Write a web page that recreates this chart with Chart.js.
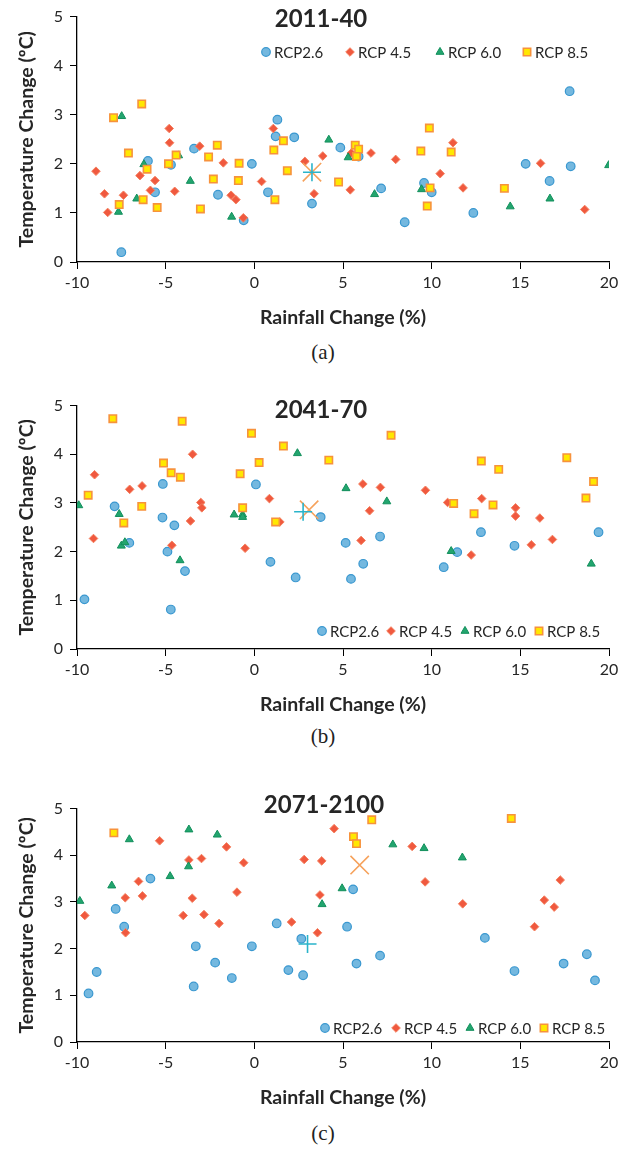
<!DOCTYPE html>
<html>
<head>
<meta charset="utf-8">
<script src="https://cdn.jsdelivr.net/npm/chart.js@4.4.1/dist/chart.umd.min.js"></script>
<style>
  body { margin: 0; background: #fff; width: 626px; height: 1150px; position: relative; overflow: hidden; }
  canvas { position: absolute; left: 0; }
  .cap { position: absolute; left: 0; width: 646px; text-align: center; font: 21px "Liberation Serif", serif; color: #222; }
</style>
</head>
<body>
<canvas id="chartA" width="626" height="335" style="top:0px"></canvas>
<div class="cap" style="top:340px">(a)</div>
<canvas id="chartB" width="626" height="333" style="top:389px"></canvas>
<div class="cap" style="top:724px">(b)</div>
<canvas id="chartC" width="626" height="323" style="top:792px"></canvas>
<div class="cap" style="top:1121px">(c)</div>
<script>
// Series names and axis ticks
var seriesNames = ['RCP2.6', 'RCP 4.5', 'RCP 6.0', 'RCP 8.5'];
var xTicks = [-10, -5, 0, 5, 10, 15, 20];
var yTicks = [0, 1, 2, 3, 4, 5];

// 2011-40  [rainfall change %, temperature change C]
var rcp26A = [[-7.5, 0.2], [-6.0, 2.06], [-5.6, 1.42], [-4.7, 1.98], [-3.4, 2.31], [-2.05, 1.37], [-0.6, 0.85],
  [-0.14, 2.0], [0.77, 1.42], [1.2, 2.56], [1.3, 2.9], [2.25, 2.54], [3.25, 1.19], [4.85, 2.33], [5.88, 2.15],
  [7.15, 1.5], [8.48, 0.81], [9.57, 1.61], [10.0, 1.42], [12.35, 1.0], [15.3, 2.0], [16.65, 1.65], [17.84, 1.95],
  [17.78, 3.48]];
var rcp45A = [[-8.93, 1.85], [-8.45, 1.39], [-8.27, 1.01], [-7.38, 1.36], [-6.45, 1.76], [-5.86, 1.46], [-5.6, 1.66],
  [-4.8, 2.72], [-4.78, 2.43], [-4.49, 1.44], [-3.08, 2.36], [-1.75, 2.02], [-1.31, 1.36], [-1.04, 1.27],
  [-0.62, 0.9], [0.41, 1.64], [1.07, 2.72], [2.85, 2.05], [3.37, 1.39], [3.86, 2.16], [5.41, 1.47], [5.47, 2.22],
  [6.58, 2.22], [7.97, 2.09], [10.48, 1.8], [11.2, 2.43], [11.77, 1.51], [16.14, 2.01], [18.63, 1.07]];
var rcp60A = [[-7.48, 2.97], [-7.66, 1.02], [-6.63, 1.29], [-6.23, 1.99], [-4.27, 2.17], [-3.61, 1.65], [-1.28, 0.92],
  [4.2, 2.49], [5.29, 2.13], [6.78, 1.38], [9.43, 1.48], [14.43, 1.13], [16.67, 1.29], [19.98, 1.97]];
var rcp85A = [[-7.94, 2.94], [-6.35, 3.22], [-7.1, 2.22], [-7.62, 1.17], [-6.05, 1.89], [-6.27, 1.27], [-5.48, 1.11],
  [-4.84, 2.0], [-4.41, 2.18], [-3.04, 1.08], [-2.58, 2.14], [-2.31, 1.69], [-2.09, 2.38], [-0.9, 1.66],
  [-0.86, 2.01], [1.1, 2.28], [1.16, 1.27], [1.64, 2.47], [1.86, 1.86], [4.75, 1.63], [5.69, 2.38], [5.88, 2.3],
  [5.76, 2.15], [9.39, 2.26], [9.87, 2.73], [9.91, 1.51], [9.75, 1.14], [11.1, 2.24], [14.1, 1.5]];
var meanXA = [[3.25, 1.83]];
var meanPlusA = [[3.25, 1.83]];

// 2041-70
var rcp26B = [[-9.58, 1.02], [-7.88, 2.93], [-7.05, 2.18], [-5.16, 3.39], [-5.18, 2.7], [-4.51, 2.54], [-4.9, 2.0],
  [-4.71, 0.81], [-3.91, 1.6], [0.09, 3.38], [0.91, 1.79], [2.33, 1.47], [3.74, 2.71], [5.15, 2.18], [5.45, 1.44],
  [6.14, 1.75], [7.09, 2.31], [10.68, 1.68], [11.44, 1.99], [12.78, 2.4], [14.67, 2.12], [19.41, 2.4]];
var rcp45B = [[-9.01, 3.58], [-9.07, 2.27], [-7.03, 3.28], [-6.33, 3.35], [-4.65, 2.13], [-3.6, 2.63], [-3.48, 4.0],
  [-3.02, 3.01], [-2.96, 2.9], [-0.52, 2.07], [0.85, 3.09], [1.44, 2.61], [6.12, 3.39], [7.11, 3.32], [6.5, 2.84],
  [6.02, 2.23], [9.65, 3.26], [10.9, 3.01], [12.23, 1.93], [12.82, 3.09], [14.73, 2.9], [14.73, 2.73],
  [15.62, 2.14], [16.1, 2.69], [16.81, 2.25]];
var rcp60B = [[-9.9, 2.95], [-7.62, 2.77], [-7.5, 2.12], [-7.3, 2.19], [-4.19, 1.82], [-1.14, 2.76], [-0.66, 2.76],
  [-0.66, 2.71], [2.43, 4.02], [5.17, 3.3], [7.47, 3.03], [11.1, 2.01], [19.0, 1.75]];
var rcp85B = [[-9.37, 3.16], [-7.98, 4.73], [-7.36, 2.59], [-6.35, 2.93], [-5.12, 3.82], [-4.69, 3.62], [-4.17, 3.53],
  [-4.07, 4.68], [-0.8, 3.6], [-0.66, 2.9], [-0.16, 4.43], [0.27, 3.83], [1.2, 2.61], [1.64, 4.17], [4.2, 3.88],
  [7.71, 4.39], [11.24, 2.99], [12.39, 2.78], [12.8, 3.86], [13.46, 2.96], [13.78, 3.69], [17.62, 3.93],
  [18.7, 3.1], [19.13, 3.44]];
var meanXB = [[3.09, 2.86]];
var meanPlusB = [[2.75, 2.82]];

// 2071-2100
var rcp26C = [[-9.35, 1.04], [-8.89, 1.5], [-7.82, 2.85], [-7.34, 2.47], [-5.86, 3.5], [-3.42, 1.19], [-3.3, 2.05],
  [-2.21, 1.7], [-1.27, 1.37], [-0.14, 2.05], [1.26, 2.54], [1.92, 1.54], [2.65, 2.21], [2.75, 1.43], [5.23, 2.47],
  [5.57, 3.27], [5.76, 1.68], [7.09, 1.85], [13.0, 2.23], [14.67, 1.52], [17.44, 1.68], [18.75, 1.88],
  [19.21, 1.32]];
var rcp45C = [[-9.56, 2.71], [-7.28, 3.09], [-7.26, 2.34], [-6.53, 3.44], [-6.31, 3.13], [-5.34, 4.31], [-4.01, 2.71],
  [-3.69, 3.9], [-3.5, 3.08], [-2.98, 3.93], [-2.84, 2.73], [-1.99, 2.54], [-1.57, 4.18], [-0.98, 3.21],
  [-0.6, 3.84], [2.1, 2.57], [2.81, 3.91], [3.56, 2.34], [3.7, 3.15], [3.8, 3.88], [4.5, 4.57], [8.9, 4.19],
  [9.63, 3.43], [11.75, 2.96], [15.8, 2.47], [16.35, 3.04], [16.91, 2.89], [17.25, 3.47]];
var rcp60C = [[-9.84, 3.02], [-8.04, 3.35], [-7.05, 4.34], [-4.75, 3.55], [-3.71, 3.76], [-3.69, 4.55], [-2.09, 4.44],
  [3.82, 2.95], [4.95, 3.29], [7.81, 4.23], [9.57, 4.15], [11.73, 3.95]];
var rcp85C = [[-7.92, 4.48], [5.59, 4.4], [5.76, 4.25], [6.62, 4.76], [14.49, 4.79]];
var meanXC = [[5.94, 3.79]];
var meanPlusC = [[3.0, 2.1]];

var TEXT = '#262626';
var FONT = 'Lato, "Open Sans", sans-serif';

// marker look per series
var markerStyles = [
  {pointStyle: 'circle', pointRadius: 4.3, backgroundColor: '#74b8df', borderColor: '#3a98d0', borderWidth: 1.2},
  {pointStyle: 'rectRot', pointRadius: 4.3, backgroundColor: '#f0593f', borderColor: '#f4805f', borderWidth: 1},
  {pointStyle: 'triangle', pointRadius: 4.6, backgroundColor: '#22a56e', borderColor: '#128f5c', borderWidth: 1},
  {pointStyle: 'rect', pointRadius: 5.2, backgroundColor: '#ffe800', borderColor: '#f7923c', borderWidth: 1.6}
];

function toXY(pts) {
  return pts.map(function(p) { return {x: p[0], y: p[1]}; });
}

function drawMarker(ctx, style, x, y) {
  if (Chart.helpers && Chart.helpers.drawPoint) {
    Chart.helpers.drawPoint(ctx, {pointStyle: style.pointStyle, radius: style.pointRadius,
      rotation: 0, borderWidth: style.borderWidth}, x, y);
  } else {
    ctx.beginPath();
    ctx.arc(x, y, style.pointRadius, 0, Math.PI * 2);
    ctx.fill();
    ctx.stroke();
  }
}

// Draws the period title and the one-row legend inside the plot
var overlayPlugin = {
  id: 'overlay',
  afterDatasetsDraw: function(chart, args, opts) {
    var ctx = chart.ctx;
    ctx.save();
    ctx.fillStyle = TEXT;
    ctx.font = 'bold 24px ' + FONT;
    ctx.textAlign = 'center';
    ctx.textBaseline = 'middle';
    ctx.fillText(opts.title, opts.titleX, opts.titleY);

    ctx.font = '15px ' + FONT;
    ctx.textAlign = 'left';
    for (var i = 0; i < 4; i++) {
      var st = markerStyles[i];
      var mx = opts.legendX[i];
      ctx.fillStyle = st.backgroundColor;
      ctx.strokeStyle = st.borderColor;
      ctx.lineWidth = st.borderWidth;
      drawMarker(ctx, st, mx, opts.legendY);
      ctx.fillStyle = TEXT;
      ctx.fillText(seriesNames[i], mx + 8, opts.legendY + 1);
    }
    ctx.restore();
  }
};

function makeChart(id, sets, meanX, meanPlus, overlay) {
  var datasets = sets.map(function(pts, i) {
    return Object.assign({
      label: seriesNames[i],
      data: toXY(pts),
      order: 5 - i
    }, markerStyles[i]);
  });
  datasets.push({
    label: 'mean x', data: toXY(meanX), order: 1, pointStyle: 'crossRot', pointRadius: 13,
    borderColor: '#f6a25c', backgroundColor: '#f6a25c', borderWidth: 1.6
  });
  datasets.push({
    label: 'mean +', data: toXY(meanPlus), order: 0, pointStyle: 'cross', pointRadius: 9,
    borderColor: '#2ab4ca', backgroundColor: '#2ab4ca', borderWidth: 1.6
  });

  var axisGrid = {display: true, drawOnChartArea: false, drawTicks: true, tickLength: 7, color: '#000', lineWidth: 1};

  return new Chart(document.getElementById(id), {
    type: 'scatter',
    data: {datasets: datasets},
    plugins: [overlayPlugin],
    options: {
      responsive: false,
      animation: false,
      layout: {padding: {top: 16, right: 17, left: 0, bottom: 0}},
      plugins: {
        legend: {display: false},
        tooltip: {enabled: false},
        overlay: overlay
      },
      scales: {
        x: {
          type: 'linear', min: xTicks[0], max: xTicks[xTicks.length - 1],
          afterBuildTicks: function(s) { s.ticks = xTicks.map(function(v) { return {value: v}; }); },
          afterFit: function(s) { s.height = 73; },
          grid: axisGrid,
          border: {color: '#000', width: 1.3},
          ticks: {color: TEXT, font: {family: FONT, size: 16}, padding: 4, maxRotation: 0},
          title: {display: true, text: 'Rainfall Change (%)', color: TEXT,
            font: {family: FONT, size: 19.5, weight: 'bold'}, padding: {top: 0, bottom: 6}}
        },
        y: {
          min: yTicks[0], max: yTicks[yTicks.length - 1],
          afterBuildTicks: function(s) { s.ticks = yTicks.map(function(v) { return {value: v}; }); },
          afterFit: function(s) { s.width = 77; },
          grid: axisGrid,
          border: {color: '#000', width: 1.3},
          ticks: {color: TEXT, font: {family: FONT, size: 16}, padding: 7},
          title: {display: true, text: 'Temperature Change (\u00baC)', color: TEXT,
            font: {family: FONT, size: 19.5, weight: 'bold'}, padding: {top: 15, bottom: 0}}
        }
      }
    }
  });
}

makeChart('chartA', [rcp26A, rcp45A, rcp60A, rcp85A], meanXA, meanPlusA,
  {title: '2011-40', titleX: 321, titleY: 19, legendX: [266, 350, 440, 527], legendY: 52});
makeChart('chartB', [rcp26B, rcp45B, rcp60B, rcp85B], meanXB, meanPlusB,
  {title: '2041-70', titleX: 321, titleY: 21, legendX: [322, 391, 465, 539], legendY: 242});
makeChart('chartC', [rcp26C, rcp45C, rcp60C, rcp85C], meanXC, meanPlusC,
  {title: '2071-2100', titleX: 324, titleY: 13, legendX: [325, 396, 470, 544], legendY: 236});
</script>
</body>
</html>
